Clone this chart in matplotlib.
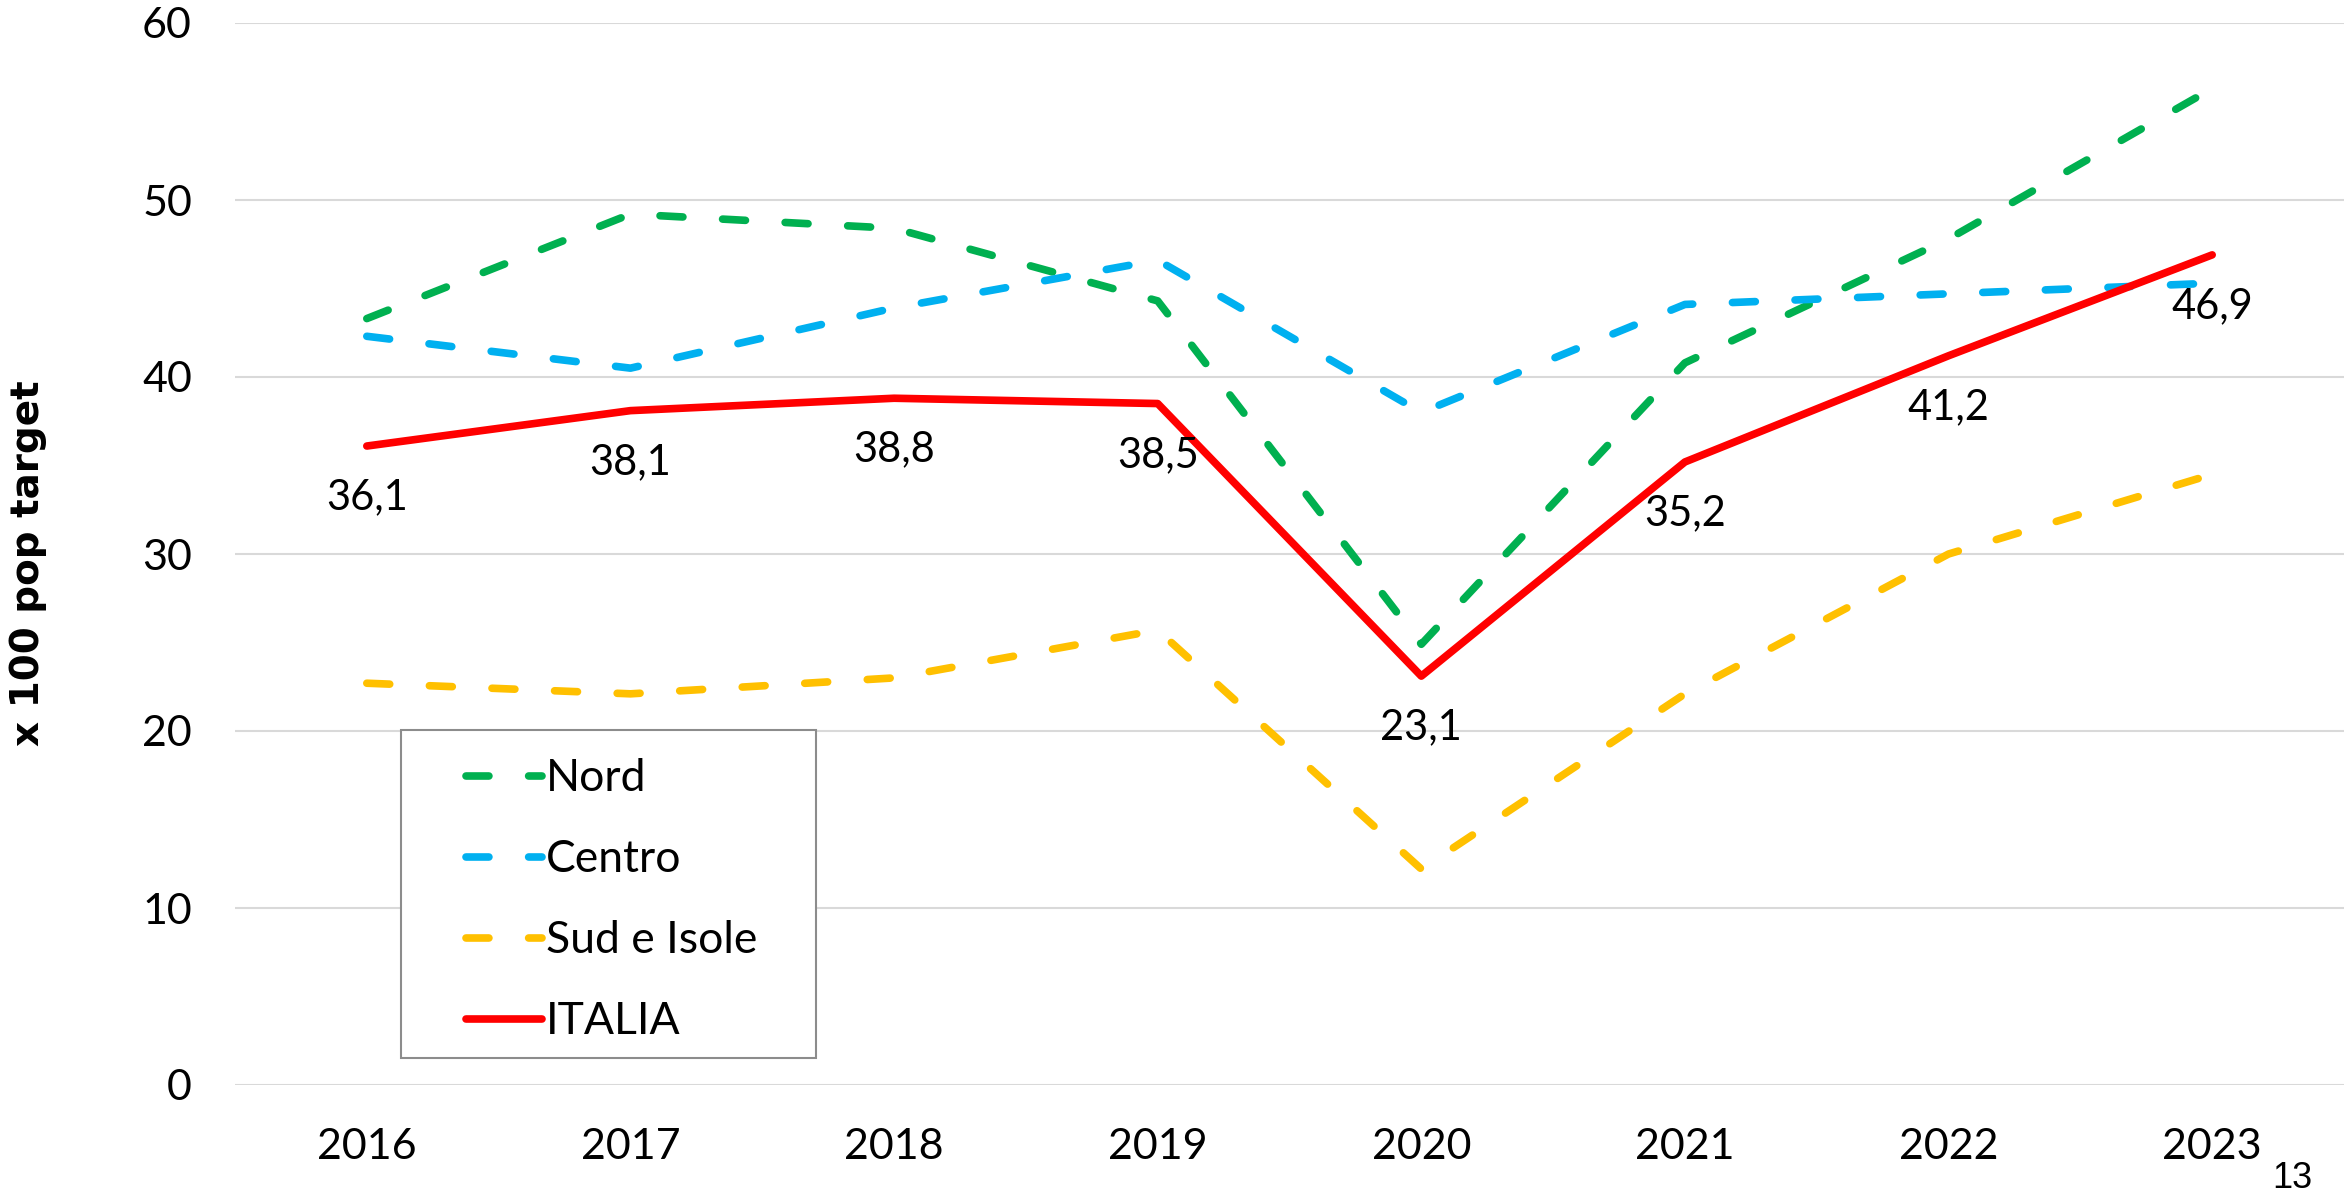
import matplotlib
matplotlib.use('Agg')
import matplotlib.pyplot as plt
import matplotlib.patches as mpatches

plt.rcParams['font.family'] = ['Lato', 'DejaVu Sans']

W, H = 2344, 1196

# Data
years = ['2016', '2017', '2018', '2019', '2020', '2021', '2022', '2023']
nord = [43.3, 49.2, 48.4, 44.3, 24.9, 40.8, 47.8, 56.3]
centro = [42.3, 40.5, 43.9, 46.6, 38.0, 44.1, 44.7, 45.3]
sud = [22.7, 22.1, 23.0, 25.7, 12.2, 22.1, 30.0, 34.5]
italia = [36.1, 38.1, 38.8, 38.5, 23.1, 35.2, 41.2, 46.9]
yticks = [0, 10, 20, 30, 40, 50, 60]

CNORD = '#00B050'
CCENTRO = '#00B0F0'
CSUD = '#FFC000'
CITA = '#FF0000'

fig = plt.figure(figsize=(W / 100, H / 100), dpi=100)
ax = fig.add_axes([235 / W, 1 - 1085 / H, 1 - 235 / W, (1085 - 23) / H])

x = list(range(len(years)))
lw = 5.5
dash = (3, 5.2)

ax.plot(x, nord, color=CNORD, lw=lw, dashes=dash, dash_capstyle='round', label='Nord', zorder=3)
ax.plot(x, centro, color=CCENTRO, lw=lw, dashes=dash, dash_capstyle='round', label='Centro', zorder=3)
ax.plot(x, sud, color=CSUD, lw=lw, dashes=dash, dash_capstyle='round', label='Sud e Isole', zorder=3)
ax.plot(x, italia, color=CITA, lw=lw, solid_capstyle='round', label='ITALIA', zorder=4)

# data labels under ITALIA points
for xi, v in zip(x, italia):
    ax.annotate(f"{v:.1f}".replace('.', ','), (xi, v), xytext=(0, -37),
                textcoords='offset points', ha='center', va='center',
                fontsize=30, color='black', zorder=5)

ax.set_xlim(-0.5, len(years) - 0.5)
ax.set_ylim(0, 60)
ax.set_yticks(yticks)
ax.set_xticks(x)
ax.set_xticklabels(years)
ax.tick_params(axis='both', length=0, labelsize=31, pad=31)
ax.grid(axis='y', color='#d9d9d9', lw=1.5, zorder=0)
ax.set_axisbelow(True)
for s in ax.spines.values():
    s.set_visible(False)

fig.text(28 / W, 1 - 563 / H, 'x 100 pop target', rotation=90, ha='center', va='center',
         fontsize=28, fontweight='bold', family=['Liberation Sans Narrow', 'DejaVu Sans'])

# legend frame
frame = mpatches.Rectangle((401 / W, 1 - 1058 / H), 415 / W, 328 / H, transform=fig.transFigure,
                           facecolor='white', edgecolor='#8c8c8c', lw=1.5, zorder=2, clip_on=False)
ax.add_patch(frame)
leg = ax.legend(loc='upper left', bbox_to_anchor=(444 / W, 1 - 736 / H), bbox_transform=fig.transFigure,
                frameon=False, fontsize=32, borderpad=0, handlelength=1.7, handletextpad=0.1,
                labelspacing=0.9)
leg.set_zorder(6)

fig.text(2292 / W, 1 - 1178 / H, '13', ha='center', va='center', fontsize=26,
         family=['Liberation Sans', 'DejaVu Sans'])

fig.savefig('out.png', dpi=100)
